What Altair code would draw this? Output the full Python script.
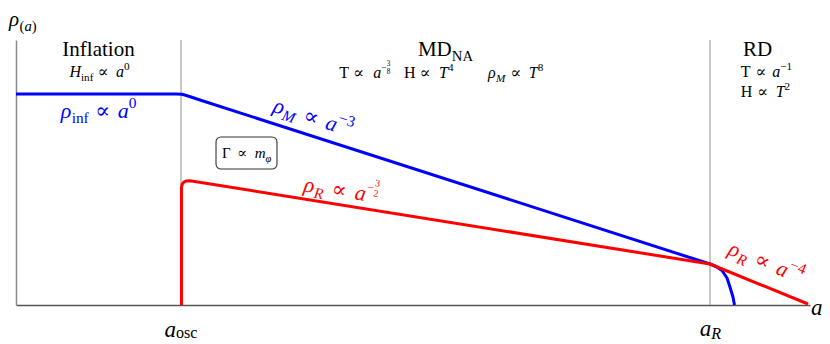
import math
import altair as alt
import pandas as pd

# ---------------- data (arbitrary units: x = scale factor a, y = rho) ----------------
X_MAX, Y_MAX = 10.0, 10.0
W, H = 794, 265
PXX, PXY = W / X_MAX, H / Y_MAX

blue_x = [0.000, 2.015, 2.091, 2.166, 2.242, 2.317, 8.741, 8.816, 8.892, 8.955, 8.992, 9.030, 9.049]
blue_y = [7.962, 7.962, 7.951, 7.887, 7.811, 7.736, 1.547, 1.453, 1.302, 1.019, 0.679, 0.302, 0.000]
red_x = [2.084, 2.084, 2.091, 2.110, 2.141, 2.191, 8.741, 9.975]
red_y = [0.000, 4.415, 4.547, 4.630, 4.679, 4.691, 1.547, 0.038]
epoch_x = [2.078, 8.741]          # a_osc, a_R
box_x = [2.519, 3.287]            # Gamma box
box_y = [5.132, 6.340]

BLUE, RED, BLACK = "#0000ff", "#ff0000", "#000000"
FONT = "Liberation Serif, DejaVu Serif, serif"


def seg_angle(xs, ys, i):
    dx = (xs[i + 1] - xs[i]) * PXX
    dy = (ys[i] - ys[i + 1]) * PXY
    return math.degrees(math.atan2(dy, dx))


# ---------------- text helpers (Times-like metrics, em/1000) ----------------
W_REG = {' ': 250, '(': 333, ')': 333, '−': 564, '-': 333, '/': 278,
         'A': 722, 'D': 722, 'H': 722, 'I': 333, 'M': 889, 'N': 722, 'R': 667, 'T': 611,
         'Γ': 578, 'a': 444, 'c': 444, 'f': 333, 'i': 278, 'l': 278, 'n': 500, 'o': 500,
         's': 389, 't': 278, 'ρ': 500, 'φ': 521, '∝': 713}
W_IT = {'a': 500, 'T': 556, 'H': 722, 'M': 833, 'R': 611, 'm': 722, 'ρ': 500, 'φ': 521}


def tw(t, it):
    tbl = W_IT if it else W_REG
    return sum((tbl.get(c) or W_REG.get(c) or 500) for c in t) / 1000.0


def P(t, sc=1.0, rise=0.0, it=False, adv=True):
    return (t, sc, rise, it, adv, None)


def G(em):
    return ("", 1.0, 0.0, False, True, em)


def SUB(t, it=False, rise=-0.22):
    return P(t, 0.7, rise, it)


def SUP(t):
    return P(t, 0.7, 0.45)


def FRAC(n, d):
    return [P("−", 0.6, 0.45), P(n, 0.45, 0.75, adv=False), P(d, 0.45, 0.28)]


def compose(pieces, ax, ay, size, color, angle=0.0, align="left"):
    advs, total = [], 0.0
    for (t, sc, rise, it, adv, w) in pieces:
        width = (w if w is not None else tw(t, it)) * size * sc
        advs.append(total)
        if adv:
            total += width
    shift = total / 2 if align == "center" else 0.0
    th = math.radians(angle)
    c, s = math.cos(th), math.sin(th)
    rows = []
    for (t, sc, rise, it, adv, w), a0 in zip(pieces, advs):
        if not t:
            continue
        along = a0 - shift
        up = rise * size
        dxp = along * c + up * s
        dyp = along * s - up * c
        rows.append(dict(x=ax + dxp / PXX, y=ay - dyp / PXY, text=t, size=size * sc,
                         color=color, it=it, angle=angle))
    return rows


ang_M = seg_angle(blue_x, blue_y, 5)
ang_R32 = seg_angle(red_x, red_y, 5)
ang_R4 = seg_angle(red_x, red_y, 6)

labels = [
    (-0.088, 10.528, 21, BLACK, 0, "left",
     [P("ρ", it=True), P("(", 0.7, -0.25), P("a", 0.7, -0.25, True), P(")", 0.7, -0.25)]),
    (1.039, 9.396, 21, BLACK, 0, "center", [P("Inflation")]),
    (1.052, 8.604, 16, BLACK, 0, "center",
     [P("H", it=True), SUB("inf"), G(0.25), P("∝"), G(0.45), P("a", it=True), SUP("0")]),
    (1.039, 7.057, 22, BLUE, 0, "center",
     [P("ρ", it=True), SUB("inf"), G(0.3), P("∝"), G(0.3), P("a", it=True), SUP("0")]),
    (3.224, 7.298, 22, BLUE, ang_M, "left",
     [P("ρ", it=True), SUB("M", True), G(0.35), P("∝"), G(0.35), P("a", it=True), SUP("−3")]),
    (3.615, 4.294, 22, RED, ang_R32, "left",
     [P("ρ", it=True), SUB("R", True), G(0.35), P("∝"), G(0.35), P("a", it=True)] + FRAC("3", "2")),
    (8.955, 1.925, 22, RED, ang_R4, "left",
     [P("ρ", it=True), SUB("R", True), G(0.35), P("∝"), G(0.35), P("a", it=True), SUP("−4")]),
    (5.409, 9.396, 21, BLACK, 0, "center", [P("MD"), SUB("NA")]),
    (4.072, 8.566, 16, BLACK, 0, "left",
     [P("T"), G(0.25), P("∝"), G(0.55), P("a", it=True)] + FRAC("3", "8")),
    (4.887, 8.566, 16, BLACK, 0, "left",
     [P("H"), G(0.25), P("∝"), G(0.5), P("T", it=True), SUP("4")]),
    (5.945, 8.566, 16, BLACK, 0, "left",
     [P("ρ", it=True), SUB("M", True), G(0.3), P("∝"), G(0.45), P("T", it=True), SUP("8")]),
    (9.341, 9.396, 21, BLACK, 0, "center", [P("RD")]),
    (9.127, 8.604, 16, BLACK, 0, "left",
     [P("T"), G(0.3), P("∝"), G(0.35), P("a", it=True), SUP("−1")]),
    (9.127, 7.849, 16, BLACK, 0, "left",
     [P("H"), G(0.3), P("∝"), G(0.45), P("T", it=True), SUP("2")]),
    (2.903, 5.536, 15, BLACK, 0, "center",
     [P("Γ"), G(0.45), P("∝"), G(0.45), P("m", it=True), SUB("φ", True)]),
    (2.078, -1.189, 23, BLACK, 0, "center", [P("a", it=True), SUB("osc", rise=-0.08)]),
    (8.747, -1.170, 23, BLACK, 0, "center", [P("a", it=True), SUB("R", True, rise=-0.12)]),
    (10.013, -0.377, 23, BLACK, 0, "left", [P("a", it=True)]),
]

rows = []
for (ax, ay, size, color, angle, align, pieces) in labels:
    rows += compose(pieces, ax, ay, size, color, angle, align)
text_df = pd.DataFrame(rows)

lines_df = pd.concat([
    pd.DataFrame({"x": blue_x, "y": blue_y, "s": "blue", "c": BLUE, "o": range(len(blue_x))}),
    pd.DataFrame({"x": red_x, "y": red_y, "s": "red", "c": RED, "o": range(len(red_x))}),
])
rules_df = pd.DataFrame({"x": epoch_x, "y0": 0.0, "y1": Y_MAX})
box_df = pd.DataFrame({"x": [box_x[0]], "x2": [box_x[1]], "y": [box_y[0]], "y2": [box_y[1]]})

xs = alt.Scale(domain=[0, X_MAX], nice=False, zero=False)
ys = alt.Scale(domain=[0, Y_MAX], nice=False, zero=False)
xax = alt.Axis(title=None, labels=False, ticks=False, grid=False, domainColor="#555555", domainWidth=1.5)
yax = alt.Axis(title=None, labels=False, ticks=False, grid=False, domainColor="#888888", domainWidth=1.5)


def X(f="x"):
    return alt.X(f"{f}:Q", scale=xs, axis=xax)


def Y(f="y"):
    return alt.Y(f"{f}:Q", scale=ys, axis=yax)


rules = alt.Chart(rules_df).mark_rule(color="#aaaaaa", strokeWidth=1.3).encode(
    x=X(), y=Y("y0"), y2="y1")

lines = alt.Chart(lines_df).mark_line(strokeWidth=3, strokeJoin="round").encode(
    x=X(), y=Y(), detail="s:N", order="o:Q", color=alt.Color("c:N", scale=None))

box = alt.Chart(box_df).mark_rect(cornerRadius=5, fill="white", stroke="#333333", strokeWidth=1.1).encode(
    x=X(), x2="x2", y=Y(), y2="y2")


def text_layer(italic):
    return alt.Chart(text_df[text_df["it"] == italic]).mark_text(
        align="left", baseline="alphabetic", font=FONT,
        fontStyle="italic" if italic else "normal").encode(
        x=X(), y=Y(), text="text:N",
        size=alt.Size("size:Q", scale=None),
        color=alt.Color("color:N", scale=None),
        angle=alt.Angle("angle:Q", scale=None))


chart = alt.layer(rules, lines, box, text_layer(False), text_layer(True)).properties(
    width=W, height=H,
    autosize=alt.AutoSizeParams(type="none"),
    padding={"left": 8, "top": 32, "right": 12, "bottom": 39},
).configure_view(stroke=None)

chart.save("out.html", embed_options={"renderer": "svg", "actions": False})
